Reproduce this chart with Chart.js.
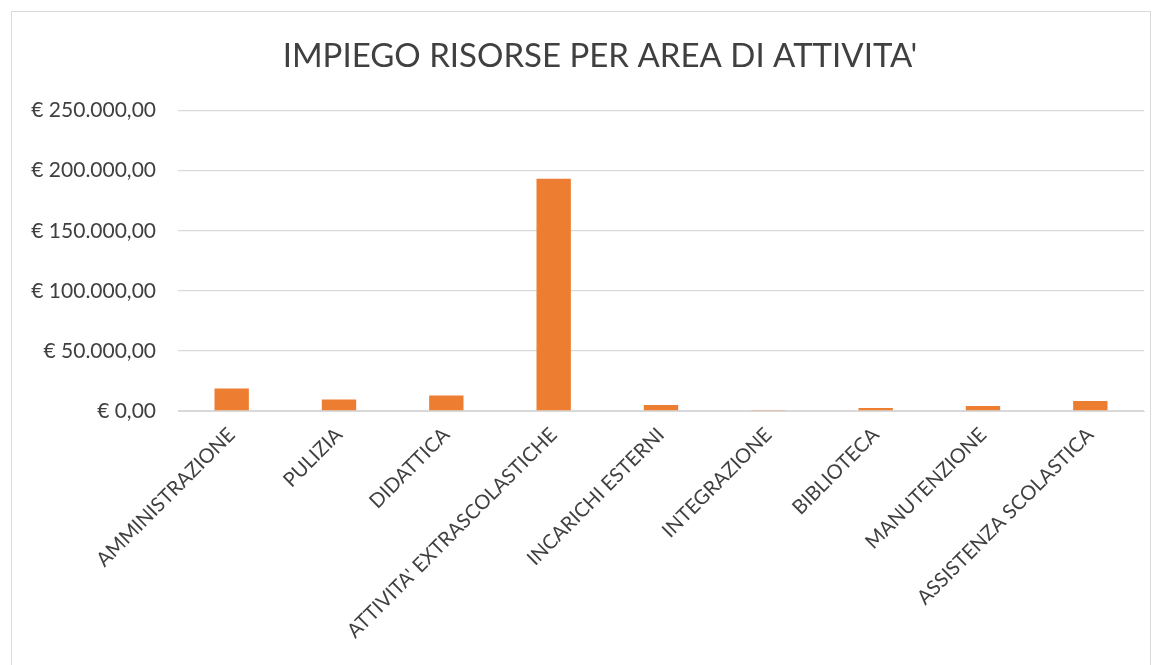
<!DOCTYPE html>
<html lang="it">
<head>
<meta charset="utf-8">
<title>Impiego risorse per area di attività</title>
<script src="https://cdn.jsdelivr.net/npm/chart.js@4/dist/chart.umd.min.js"></script>
<style>
  html, body { margin: 0; padding: 0; background: #fff; overflow: hidden; }
  .wrap { position: relative; width: 1161px; height: 665px; }
  .frame { position: absolute; left: 11px; top: 11px; width: 1138px; height: 700px; border: 1px solid #d9d9d9; pointer-events: none; }
  canvas { position: absolute; left: 0; top: 0; }
</style>
</head>
<body>
<div class="wrap">
  <div class="frame"></div>
  <canvas id="chart" width="1161" height="665"></canvas>
</div>
<script>
/* ── Data ── */
const CATEGORIES = ['AMMINISTRAZIONE','PULIZIA','DIDATTICA',"ATTIVITA' EXTRASCOLASTICHE",'INCARICHI ESTERNI','INTEGRAZIONE','BIBLIOTECA','MANUTENZIONE','ASSISTENZA SCOLASTICA'];
const IMPORTI    = [18700, 9500, 13000, 193300, 5000, 900, 2600, 4200, 8400];
const Y_TICKS    = [0, 50000, 100000, 150000, 200000, 250000];

const FONT = "Lato, 'Open Sans', sans-serif";
const TEXT = '#404040', GRID = '#d9d9d9', BAR = '#ED7D31';

/* ── Utilities ── */
function euro(v) {
  const [int, dec] = Math.abs(v).toFixed(2).split('.');
  return '€ ' + int.replace(/\B(?=(\d{3})+(?!\d))/g, '.') + ',' + dec;
}

// title in the original is centred on the frame, not the canvas: narrow its box a little
const titleShift = { id: 'titleShift', afterLayout(chart) { if (chart.titleBlock) chart.titleBlock.left += 56; } };

/* ── Chart ── */
new Chart(document.getElementById('chart'), {
  type: 'bar',
  data: { labels: CATEGORIES, datasets: [{ data: IMPORTI, backgroundColor: BAR, barPercentage: 0.32, categoryPercentage: 1 }] },
  plugins: [titleShift],
  options: {
    responsive: false, animation: false,
    layout: { padding: { left: 0, right: 17, top: 0, bottom: 0 } },
    plugins: {
      legend: { display: false }, tooltip: { enabled: false },
      title: { display: true, text: "IMPIEGO RISORSE PER AREA DI ATTIVITA'", color: TEXT, font: { family: FONT, size: 33, weight: 'normal' }, padding: { top: 37, bottom: 34 } }
    },
    scales: {
      x: {
        grid: { display: false }, border: { color: GRID },
        ticks: { color: TEXT, font: { family: FONT, size: 20 }, minRotation: 45, maxRotation: 45, autoSkip: false, padding: 4 },
        afterFit: s => { s.height = 254; }
      },
      y: {
        min: 0, max: 250000,
        border: { display: false }, grid: { color: GRID, lineWidth: 1.3, drawTicks: false },
        afterBuildTicks: s => { s.ticks = Y_TICKS.map(v => ({ value: v })); },
        ticks: { color: TEXT, font: { family: FONT, size: 21 }, padding: 22, callback: v => euro(v) },
        afterFit: s => { s.width = 178; }
      }
    }
  }
});
</script>
</body>
</html>
